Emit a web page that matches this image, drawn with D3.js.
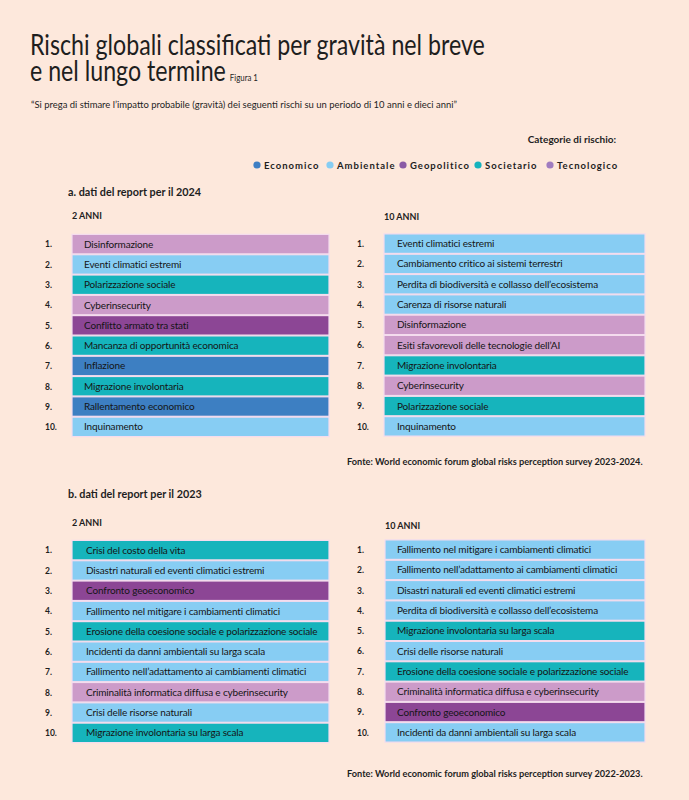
<!DOCTYPE html>
<html><head><meta charset="utf-8">
<script src="https://cdn.jsdelivr.net/npm/d3@7"></script>
<style>
html,body{margin:0;padding:0;background:#fde8dc;}
svg{display:block;font-family:Lato,"Open Sans",sans-serif;}
</style></head>
<body>
<script>
const ranks = ["1.","2.","3.","4.","5.","6.","7.","8.","9.","10."];
const categories = ["Economico","Ambientale","Geopolitico","Societario","Tecnologico"];

const a2Labels = ["Disinformazione","Eventi climatici estremi","Polarizzazione sociale","Cyberinsecurity","Conflitto armato tra stati","Mancanza di opportunità economica","Inflazione","Migrazione involontaria","Rallentamento economico","Inquinamento"];
const a2Cats = ["Tecnologico","Ambientale","Societario","Tecnologico","Geopolitico","Societario","Economico","Societario","Economico","Ambientale"];

const a10Labels = ["Eventi climatici estremi","Cambiamento critico ai sistemi terrestri","Perdita di biodiversità e collasso dell’ecosistema","Carenza di risorse naturali","Disinformazione","Esiti sfavorevoli delle tecnologie dell’AI","Migrazione involontaria","Cyberinsecurity","Polarizzazione sociale","Inquinamento"];
const a10Cats = ["Ambientale","Ambientale","Ambientale","Ambientale","Tecnologico","Tecnologico","Societario","Tecnologico","Societario","Ambientale"];

const b2Labels = ["Crisi del costo della vita","Disastri naturali ed eventi climatici estremi","Confronto geoeconomico","Fallimento nel mitigare i cambiamenti climatici","Erosione della coesione sociale e polarizzazione sociale","Incidenti da danni ambientali su larga scala","Fallimento nell’adattamento ai cambiamenti climatici","Criminalità informatica diffusa e cyberinsecurity","Crisi delle risorse naturali","Migrazione involontaria su larga scala"];
const b2Cats = ["Societario","Ambientale","Geopolitico","Ambientale","Societario","Ambientale","Ambientale","Tecnologico","Ambientale","Societario"];

const b10Labels = ["Fallimento nel mitigare i cambiamenti climatici","Fallimento nell’adattamento ai cambiamenti climatici","Disastri naturali ed eventi climatici estremi","Perdita di biodiversità e collasso dell’ecosistema","Migrazione involontaria su larga scala","Crisi delle risorse naturali","Erosione della coesione sociale e polarizzazione sociale","Criminalità informatica diffusa e cyberinsecurity","Confronto geoeconomico","Incidenti da danni ambientali su larga scala"];
const b10Cats = ["Ambientale","Ambientale","Ambientale","Ambientale","Societario","Ambientale","Societario","Tecnologico","Geopolitico","Ambientale"];

const barColor = d3.scaleOrdinal().domain(categories)
  .range(["#3d7fc2","#87cdf3","#8c4695","#16b4bc","#cc9bc9"]);
const legendColor = d3.scaleOrdinal().domain(categories)
  .range(["#3f7fc4","#86cdf3","#8a5ba6","#17b3bd","#a07cc0"]);

const W = 689, H = 800;
const svg = d3.select("body").append("svg").attr("width", W).attr("height", H);
svg.append("rect").attr("width", W).attr("height", H).attr("fill", "#fde8dc");

const ink = "#1e1e1e";

// Title: one text element, horizontally condensed to the reference width
const tg = svg.append("g");
const title = tg.append("text").attr("x", 0).attr("y", 55)
  .attr("font-size", 28).attr("font-weight", 400).attr("fill", ink);
const l1 = title.append("tspan").attr("x", 0).text("Rischi globali classificati per gravità nel breve");
const w1 = l1.node().getComputedTextLength();
const k = 455 / w1;
title.append("tspan").attr("x", 0).attr("dy", 26).text("e nel lungo termine");
title.append("tspan").attr("dx", 4 / k).attr("font-size", 9.5).text("Figura 1");
tg.attr("transform", `translate(30,0) scale(${k},1)`);

svg.append("text").attr("x", 31).attr("y", 108)
  .attr("font-size", 9.5).attr("fill", ink)
  .attr("textLength", 426).attr("lengthAdjust", "spacingAndGlyphs")
  .text("“Si prega di stimare l’impatto probabile (gravità) dei seguenti rischi su un periodo di 10 anni e dieci anni”");

// Legend
svg.append("text").attr("x", 616).attr("y", 143).attr("text-anchor", "end")
  .attr("font-size", 10).attr("font-weight", 700).attr("fill", ink)
  .text("Categorie di rischio:");

const legendX = [257, 330, 403, 478, 550];
const lg = svg.append("g").selectAll("g").data(categories).join("g")
  .attr("transform", (d, i) => `translate(${legendX[i]},165)`);
lg.append("circle").attr("r", 3.6).attr("fill", d => legendColor(d));
lg.append("text").attr("x", 7).attr("y", 3.6)
  .attr("font-size", 9.5).attr("font-weight", 700).attr("letter-spacing", 1)
  .attr("fill", ink).text(d => d);

// Panels
function column(labels, cats, opts) {
  const y = d3.scaleBand().domain(ranks).range([opts.top, opts.top + 10 * 20.3]).paddingInner(0.04).paddingOuter(0.02);
  const g = svg.append("g");
  g.append("text").attr("x", opts.x0).attr("y", opts.headY)
    .attr("font-size", 9).attr("font-weight", 700).attr("fill", ink)
    .text(opts.head);
  const rows = g.selectAll("g.row").data(ranks).join("g").attr("class", "row");
  rows.append("rect")
    .attr("x", opts.x0).attr("width", opts.x1 - opts.x0)
    .attr("y", d => y(d)).attr("height", y.bandwidth())
    .attr("fill", (d, i) => barColor(cats[i]))
    .attr("stroke", "#f4dcee").attr("stroke-width", 1.2);
  rows.append("text").attr("x", opts.numX).attr("y", d => y(d) + y.bandwidth() / 2 + 3.3)
    .attr("font-size", 8.5).attr("font-weight", 700).attr("fill", ink).text(d => d);
  rows.append("text").attr("x", opts.textX).attr("y", d => y(d) + y.bandwidth() / 2 + 3.5)
    .attr("font-size", 10).attr("letter-spacing", -0.15).attr("fill", "#151515")
    .text((d, i) => labels[i]);
}

svg.append("text").attr("x", 68).attr("y", 196)
  .attr("font-size", 10.8).attr("font-weight", 700).attr("fill", ink)
  .text("a. dati del report per il 2024");
column(a2Labels, a2Cats, {x0: 72, x1: 329, top: 234, numX: 45, textX: 84, head: "2 ANNI", headY: 219});
column(a10Labels, a10Cats, {x0: 384, x1: 645, top: 233.5, numX: 357, textX: 397, head: "10 ANNI", headY: 220});
svg.append("text").attr("x", 347).attr("y", 465)
  .attr("font-size", 9.2).attr("font-weight", 700).attr("fill", ink)
  .text("Fonte: World economic forum global risks perception survey 2023-2024.");

svg.append("text").attr("x", 68).attr("y", 498)
  .attr("font-size", 10.8).attr("font-weight", 700).attr("fill", ink)
  .text("b. dati del report per il 2023");
column(b2Labels, b2Cats, {x0: 72, x1: 329, top: 540, numX: 45, textX: 86, head: "2 ANNI", headY: 526});
column(b10Labels, b10Cats, {x0: 385, x1: 645, top: 539.5, numX: 357, textX: 397, head: "10 ANNI", headY: 529});
svg.append("text").attr("x", 347).attr("y", 777)
  .attr("font-size", 9.2).attr("font-weight", 700).attr("fill", ink)
  .text("Fonte: World economic forum global risks perception survey 2022-2023.");
</script>
</body></html>
